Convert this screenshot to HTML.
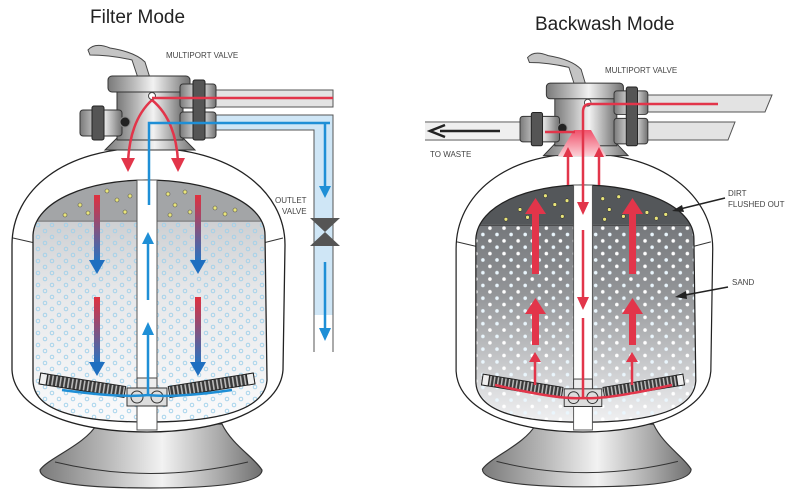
<!DOCTYPE html>
<html><head><meta charset="utf-8"><style>
html,body{margin:0;padding:0;background:#fff}
svg{display:block}
text{font-family:"Liberation Sans",sans-serif}
</style></head><body>
<svg width="800" height="497" viewBox="0 0 800 497" xmlns="http://www.w3.org/2000/svg">
<defs>
<linearGradient id="metal" x1="0" x2="1" y1="0" y2="0">
<stop offset="0" stop-color="#7a7a7a"/><stop offset="0.3" stop-color="#b8b8b8"/><stop offset="0.55" stop-color="#f2f2f2"/><stop offset="0.8" stop-color="#acacac"/><stop offset="1" stop-color="#707070"/></linearGradient>
<linearGradient id="inL" x1="0" x2="0" y1="0" y2="1">
<stop offset="0" stop-color="#bfc1c4"/><stop offset="0.45" stop-color="#e6e7e9"/><stop offset="1" stop-color="#fbfbfc"/></linearGradient>
<linearGradient id="inR" x1="0" x2="0" y1="0" y2="1">
<stop offset="0" stop-color="#63666a"/><stop offset="0.45" stop-color="#939598"/><stop offset="0.85" stop-color="#dcdddf"/><stop offset="1" stop-color="#f4f4f5"/></linearGradient>
<linearGradient id="rb" x1="0" x2="0" y1="0" y2="1"><stop offset="0" stop-color="#e0303e"/><stop offset="1" stop-color="#1e78c8"/></linearGradient>
<linearGradient id="cone" x1="0" x2="0" y1="0" y2="1"><stop offset="0" stop-color="#f0506a"/><stop offset="1" stop-color="#fbd0d6"/></linearGradient>
<pattern id="dotsL" width="14" height="12" patternUnits="userSpaceOnUse">
<circle cx="3" cy="3" r="1.8" fill="none" stroke="#9fd0ea" stroke-width="0.9"/>
<circle cx="10" cy="9" r="1.8" fill="none" stroke="#9fd0ea" stroke-width="0.9"/></pattern>
<pattern id="dotsR" width="15" height="13" patternUnits="userSpaceOnUse">
<circle cx="3" cy="3" r="1.9" fill="#fff"/><circle cx="10.5" cy="9.5" r="1.9" fill="#eaf6fd"/></pattern>
<pattern id="coil" width="4" height="10" patternUnits="userSpaceOnUse">
<rect width="4" height="10" fill="#3a3a3a"/><rect x="0" width="1.6" height="10" fill="#bbb"/></pattern>
<clipPath id="winC"><path d="M33,235 C35,200 90,180 147,180 C205,180 265,200 265,235 L267,380 C265,410 220,422 147,422 C75,422 33,410 33,380 Z"/></clipPath>
<g id="tank">
<path d="M97,424 L222,424 C232,445 255,458 262,470 Q262,488 150,488 Q40,488 40,470 C48,458 85,445 97,424 Z" fill="url(#metal)" stroke="#333" stroke-width="1.2"/>
<path d="M55,462 Q150,485 248,462" fill="none" stroke="#333" stroke-width="1"/>
<path d="M147,148 C230,148 285,190 285,245 L283,370 C280,410 220,432 147,432 C74,432 14,410 12,370 L12,245 C12,190 64,148 147,148 Z" fill="#fff" stroke="#222" stroke-width="1.3"/>
<path d="M13,238 L35,243 M283,238 L263,243" stroke="#333" stroke-width="1"/>
</g>
<g id="valve">
<path d="M88,50 Q95,42 110,48 Q135,52 145,62 L150,78 L138,78 L132,60 Q110,55 90,55 Z" fill="#c4c4c4" stroke="#444"/>
<path d="M105,150 L117,138 L183,138 L195,150 Z" fill="url(#metal)" stroke="#333"/>
<rect x="117" y="88" width="66" height="52" fill="url(#metal)" stroke="#333"/>
<rect x="108" y="76" width="82" height="16" rx="4" fill="url(#metal)" stroke="#333"/>
<rect x="80" y="110" width="42" height="26" rx="3" fill="url(#metal)" stroke="#333"/>
<rect x="92" y="106" width="12" height="34" rx="2" fill="#555" stroke="#222"/>
<circle cx="125" cy="122" r="5" fill="#222" stroke="#888"/>
<rect x="180" y="84" width="36" height="24" rx="3" fill="url(#metal)" stroke="#333"/>
<rect x="180" y="112" width="36" height="26" rx="3" fill="url(#metal)" stroke="#333"/>
<rect x="193" y="80" width="12" height="60" rx="2" fill="#555" stroke="#222"/>
<circle cx="152" cy="96" r="3.5" fill="#fff" stroke="#444"/>
</g>
<g id="lat">
<g transform="rotate(9 40 378)"><rect x="40" y="373" width="86" height="11" fill="url(#coil)" stroke="#222"/><rect x="40" y="373" width="7" height="11" fill="#eee" stroke="#222"/></g>
<g transform="rotate(-9 254 378)"><rect x="168" y="373" width="86" height="11" fill="url(#coil)" stroke="#222"/><rect x="247" y="373" width="7" height="11" fill="#eee" stroke="#222"/></g>
<rect x="137" y="378" width="20" height="12" fill="#eee" stroke="#444"/>
<rect x="127" y="388" width="40" height="18" fill="#ddd" stroke="#333"/>
<circle cx="137" cy="397" r="6" fill="none" stroke="#333"/><circle cx="157" cy="397" r="6" fill="none" stroke="#333"/>
</g>
</defs>

<text x="90" y="23" font-size="19" fill="#222">Filter Mode</text>
<text x="166" y="58" font-size="8" fill="#444">MULTIPORT VALVE</text>
<rect x="214" y="90" width="119" height="17" fill="#e3e3e3" stroke="#555"/>
<rect x="214" y="115" width="119" height="15" fill="#cfe6f6"/>
<rect x="314" y="115" width="19" height="200" fill="#cfe6f6"/>
<path d="M214,115 L333,115 L333,352 M314,352 L314,130 L214,130" fill="none" stroke="#555"/>
<path d="M310,218 L340,218 L325,232 Z M310,246 L340,246 L325,232 Z" fill="#555"/>
<use href="#tank"/>
<g clip-path="url(#winC)">
<rect x="30" y="178" width="240" height="250" fill="url(#inL)"/>
<rect x="30" y="222" width="240" height="200" fill="url(#dotsL)"/>
<rect x="30" y="178" width="240" height="42" fill="#a3a5a7"/>
<g fill="#e9e57a" stroke="#555" stroke-width="0.6">
<circle cx="80" cy="205" r="2"/><circle cx="107" cy="191" r="2"/><circle cx="117" cy="200" r="2"/><circle cx="125" cy="212" r="2"/><circle cx="88" cy="213" r="2"/><circle cx="65" cy="215" r="2"/><circle cx="130" cy="196" r="2"/><circle cx="168" cy="194" r="2"/><circle cx="175" cy="205" r="2"/><circle cx="185" cy="192" r="2"/><circle cx="170" cy="215" r="2"/><circle cx="215" cy="208" r="2"/><circle cx="225" cy="214" r="2"/><circle cx="235" cy="210" r="2"/><circle cx="190" cy="212" r="2"/></g>
<line x1="30" y1="221" x2="270" y2="221" stroke="#555"/>
</g>
<path d="M33,235 C35,200 90,180 147,180 C205,180 265,200 265,235 L267,380 C265,410 220,422 147,422 C75,422 33,410 33,380 Z" fill="none" stroke="#222" stroke-width="1.3"/>
<rect x="137" y="180" width="20" height="250" fill="#fff" stroke="#555"/>
<use href="#lat"/>
<use href="#valve"/>
<g fill="none" stroke-width="2.5">
<path d="M152,98 L333,98" stroke="#e2354a"/>
<path d="M152,100 Q130,120 128,162 M152,100 Q176,120 178,162" stroke="#e2354a"/>
<path d="M330,123 L149,123 L149,205" stroke="#1f8fd6"/>
<path d="M325,123 L325,190" stroke="#1f8fd6"/>
<path d="M325,262 L325,330" stroke="#1f8fd6"/>
<path d="M148,300 L148,240 M148,395 L148,330" stroke="#1f8fd6"/>
<path d="M62,390 Q120,398 148,395 Q176,398 232,390" stroke="#1f8fd6"/>
</g>
<g fill="#e2354a"><path d="M121,158 L135,158 L128,172 Z"/><path d="M171,158 L185,158 L178,172 Z"/></g>
<g fill="#1f8fd6"><path d="M319,186 L331,186 L325,198 Z"/><path d="M319,328 L331,328 L325,341 Z"/><path d="M142,244 L154,244 L148,232 Z"/><path d="M142,335 L154,335 L148,322 Z"/></g>
<g fill="url(#rb)">
<rect x="94" y="195" width="6" height="70"/><rect x="195" y="195" width="6" height="70"/>
<rect x="94" y="297" width="6" height="70"/><rect x="195" y="297" width="6" height="70"/></g>
<g fill="#1f6fc0"><path d="M89,260 L105,260 L97,274 Z"/><path d="M190,260 L206,260 L198,274 Z"/><path d="M89,362 L105,362 L97,376 Z"/><path d="M190,362 L206,362 L198,376 Z"/></g>
<text x="275" y="203" font-size="8" fill="#444">OUTLET</text>
<text x="282" y="214" font-size="8" fill="#444">VALVE</text>

<text x="535" y="30" font-size="19" fill="#222">Backwash Mode</text>
<text x="605" y="73" font-size="8" fill="#444">MULTIPORT VALVE</text>
<text x="430" y="157" font-size="8" fill="#444">TO WASTE</text>
<text x="728" y="196" font-size="8" fill="#444">DIRT</text>
<text x="728" y="207" font-size="8" fill="#444">FLUSHED OUT</text>
<text x="732" y="285" font-size="8" fill="#444">SAND</text>
<path d="M640,95 L772,95 L765,112 L640,112 Z" fill="#e3e3e3" stroke="#555"/>
<path d="M640,122 L735,122 L728,140 L640,140 Z" fill="#e3e3e3" stroke="#555"/>
<path d="M425,122 L525,122 M425,140 L525,140" stroke="#555"/>
<rect x="425" y="123" width="100" height="16" fill="#efefef"/>
<g transform="translate(583,8.6) scale(0.94,0.98) translate(-147,0)">
<use href="#tank"/>
<g clip-path="url(#winC)">
<rect x="30" y="178" width="240" height="250" fill="url(#inR)"/>
<rect x="30" y="222" width="240" height="200" fill="url(#dotsR)"/>
<rect x="30" y="178" width="240" height="42" fill="#54575a"/>
<g fill="#e9e57a" stroke="#333" stroke-width="0.6">
<circle cx="80" cy="205" r="2"/><circle cx="107" cy="191" r="2"/><circle cx="117" cy="200" r="2"/><circle cx="125" cy="212" r="2"/><circle cx="88" cy="213" r="2"/><circle cx="65" cy="215" r="2"/><circle cx="130" cy="196" r="2"/><circle cx="168" cy="194" r="2"/><circle cx="175" cy="205" r="2"/><circle cx="185" cy="192" r="2"/><circle cx="170" cy="215" r="2"/><circle cx="215" cy="208" r="2"/><circle cx="225" cy="214" r="2"/><circle cx="235" cy="210" r="2"/><circle cx="190" cy="212" r="2"/></g>
<line x1="30" y1="221" x2="270" y2="221" stroke="#333"/>
</g>
<path d="M33,235 C35,200 90,180 147,180 C205,180 265,200 265,235 L267,380 C265,410 220,422 147,422 C75,422 33,410 33,380 Z" fill="none" stroke="#222" stroke-width="1.3"/>
<rect x="137" y="180" width="20" height="250" fill="#fff" stroke="#555"/>
<use href="#lat"/>
<use href="#valve"/>
</g>
<path d="M558,156 L574,130 L591,130 L606,156 Z" fill="url(#cone)"/>
<path d="M500,131 L440,131" stroke="#222" stroke-width="2.5"/>
<path d="M445,125 L430,131 L445,137" fill="none" stroke="#222" stroke-width="2.5"/>
<g fill="none" stroke="#e2354a" stroke-width="2.5">
<path d="M718,104 L590,104 Q583,104 583,112 L583,205"/>
<path d="M583,230 L583,300 M583,318 L583,398"/>
<path d="M568,185 L568,155 M599,185 L599,155"/>
<path d="M575,132 L545,132"/>
<path d="M535,385 L535,360 M632,385 L632,360"/>
<path d="M495,385 Q560,400 583,398 Q606,400 672,385"/>
</g>
<g fill="#e2354a">
<path d="M577,202 L589,202 L583,215 Z"/><path d="M577,297 L589,297 L583,310 Z"/>
<path d="M563,157 L573,157 L568,147 Z"/><path d="M594,157 L604,157 L599,147 Z"/>
<path d="M529,362 L541,362 L535,352 Z"/><path d="M626,362 L638,362 L632,352 Z"/>
<rect x="532" y="212" width="7" height="62"/><rect x="629" y="212" width="7" height="62"/>
<path d="M525,214 L546,214 L535.5,198 Z"/><path d="M622,214 L643,214 L632.5,198 Z"/>
<rect x="532" y="312" width="7" height="33"/><rect x="629" y="312" width="7" height="33"/>
<path d="M525,314 L546,314 L535.5,298 Z"/><path d="M622,314 L643,314 L632.5,298 Z"/>
</g>
<path d="M725,198 L676,210" stroke="#222" stroke-width="1.5"/><path d="M682,205 L672,211 L684,212 Z" fill="#222"/>
<path d="M728,287 L680,296" stroke="#222" stroke-width="1.5"/><path d="M686,291 L675,297 L687,299 Z" fill="#222"/>
</svg>
</body></html>
